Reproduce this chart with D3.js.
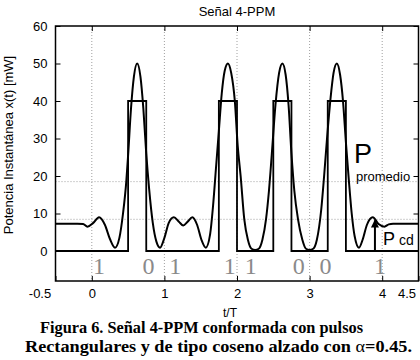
<!DOCTYPE html>
<html>
<head>
<meta charset="utf-8">
<title>Señal 4-PPM</title>
<script src="https://cdnjs.cloudflare.com/ajax/libs/d3/7.8.5/d3.min.js"></script>
<style>
    body { margin: 0; background: #fff; }
    svg { display: block; font-family: "Liberation Sans", Arial, sans-serif; }
    .grid { stroke: #888; stroke-width: 0.8; stroke-dasharray: 1,2; }
    .tick text { font-size: 13px; fill: #000; font-family: "Liberation Sans", Arial, sans-serif; }
    .tick line { stroke: #000; }
    .bit { font-family: "Liberation Serif", "Times New Roman", serif; font-size: 24px; fill: #8a8a8a; }
    .caption { font-family: "Liberation Serif", "Times New Roman", serif; font-size: 16px; font-weight: bold; }
</style>
</head>
<body>
<div id="chart"></div>
<script>
    // time axis (t/T) and ticks
    const xTicks = [-0.5, 0, 1, 2, 3, 4, 4.5];
    const yTicks = [0, 10, 20, 30, 40, 50, 60];

    // raised cosine pulse train, instantaneous power [mW]
    const cosT = [-0.5, -0.2, -0.12, -0.06, 0.02, 0.1, 0.18, 0.25, 0.32, 0.38, 0.43, 0.475, 0.5, 0.54, 0.58, 0.625,
        0.67, 0.71, 0.75, 0.79, 0.84, 0.89, 0.94, 1.0, 1.06, 1.13, 1.2, 1.26, 1.32, 1.385, 1.45, 1.51, 1.57,
        1.63, 1.67, 1.71, 1.75, 1.79, 1.83, 1.875, 1.92, 1.97, 2.01, 2.05, 2.1, 2.15, 2.2, 2.25, 2.3, 2.35, 2.4,
        2.44, 2.48, 2.53, 2.58, 2.625, 2.67, 2.71, 2.75, 2.79, 2.84, 2.9, 2.95, 3.0, 3.05, 3.1, 3.16, 3.2, 3.24,
        3.29, 3.33, 3.375, 3.42, 3.46, 3.5, 3.54, 3.58, 3.62, 3.68, 3.73, 3.79, 3.87, 3.95, 4.03, 4.09, 4.15, 4.5];
    const cosP = [7.3, 7.3, 7.2, 6.5, 7.5, 9.0, 7.0, 3.2, 0.9, 3.5, 10, 18.5, 25.5, 38, 46.5, 50,
        46.5, 38, 26, 16.5, 7.5, 2.5, 0.9, 3.5, 7.5, 9.0, 7.8, 6.8, 7.8, 9.0, 7.0, 3.0, 0.9,
        4.5, 12, 22, 32, 42, 48, 50, 47.5, 40, 28, 20, 8.5, 3.0, 0.6, 0.3, 0.6, 3.0, 8.5,
        16, 26, 39, 47.5, 50, 47, 39, 26, 16, 8.5, 3.0, 0.6, 0.3, 0.6, 3.0, 11, 20, 30,
        41, 47.5, 50, 47, 40, 29, 19, 10, 4.0, 0.9, 3.0, 7.0, 9.0, 7.2, 6.5, 7.1, 7.3, 7.3];

    // rectangular pulses
    const rectStart = [0.5, 1.75, 2.5, 3.25];
    const rectEnd = [0.75, 2.0, 2.75, 3.5];
    const rectAmp = 40;

    // power levels
    const pPromedio = 18.5;
    const pCd = 8.45;

    // transmitted bits under the slots
    const bitLabels = ["1", "0", "1", "1", "1", "0", "0", "1"];
    const bitPos = [0.10, 0.78, 1.15, 1.90, 2.19, 2.85, 3.22, 3.97];

    const W = 420, H = 360;
    const svg = d3.select('#chart').append('svg')
        .attr('width', W)
        .attr('height', H);

    const x = d3.scaleLinear().domain([-0.5, 4.5]).range([55.5, 418.5]);
    const y = d3.scaleLinear().domain([-8, 60]).range([281, 26]);

    // vertical grid
    svg.append('g').selectAll('line')
        .data([0, 1, 2, 3, 4])
        .enter().append('line')
        .attr('class', 'grid')
        .attr('x1', d => x(d)).attr('x2', d => x(d))
        .attr('y1', y(60)).attr('y2', y(-8));

    // horizontal level lines
    svg.append('g').selectAll('line')
        .data([pPromedio, pCd])
        .enter().append('line')
        .attr('class', 'grid')
        .attr('x1', x(-0.5)).attr('x2', x(4.5))
        .attr('y1', d => y(d)).attr('y2', d => y(d));

    // axes with inward ticks
    const yAxis = svg.append('g')
        .attr('transform', `translate(${x(-0.5)},0)`)
        .call(d3.axisLeft(y).tickValues(yTicks).tickSizeInner(-5).tickSizeOuter(0).tickPadding(8));
    yAxis.select('.domain').remove();

    svg.append('g')
        .attr('transform', `translate(${x(4.5)},0)`)
        .call(d3.axisRight(y).tickValues(yTicks).tickSizeInner(-5).tickSizeOuter(0).tickFormat(''))
        .select('.domain').remove();

    const xAxis = svg.append('g')
        .attr('transform', `translate(0,${y(-8)})`)
        .call(d3.axisBottom(x).tickValues(xTicks).tickSizeInner(-5).tickSizeOuter(0).tickPadding(8)
            .tickFormat(d => d));
    xAxis.select('.domain').remove();
    // end labels sit a little off their ticks in the original
    xAxis.selectAll('.tick text')
        .attr('dx', d => d === -0.5 ? -16 : (d === 4.5 ? -12 : 0));

    svg.append('g')
        .attr('transform', `translate(0,${y(60)})`)
        .call(d3.axisTop(x).tickValues([0, 1, 2, 3, 4]).tickSizeInner(-5).tickSizeOuter(0).tickFormat(''))
        .select('.domain').remove();

    // frame
    svg.append('rect')
        .attr('x', x(-0.5)).attr('y', y(60))
        .attr('width', x(4.5) - x(-0.5))
        .attr('height', y(-8) - y(60))
        .attr('fill', 'none')
        .attr('stroke', '#000')
        .attr('stroke-width', 1.5);

    // rectangular pulse signal
    const rectPts = [[-0.5, 0]];
    rectStart.forEach((s, i) => {
        rectPts.push([s, 0], [s, rectAmp], [rectEnd[i], rectAmp], [rectEnd[i], 0]);
    });
    rectPts.push([4.5, 0]);

    const line = d3.line().x(d => x(d[0])).y(d => y(d[1]));

    svg.append('path')
        .datum(rectPts)
        .attr('d', line)
        .attr('fill', 'none')
        .attr('stroke', '#000')
        .attr('stroke-width', 1.8);

    // raised cosine signal
    const cosPts = cosT.map((t, i) => [t, cosP[i]]);
    svg.append('path')
        .datum(cosPts)
        .attr('d', line.curve(d3.curveMonotoneX))
        .attr('fill', 'none')
        .attr('stroke', '#000')
        .attr('stroke-width', 2);

    // bits
    svg.append('g').selectAll('text')
        .data(bitLabels)
        .enter().append('text')
        .attr('class', 'bit')
        .attr('x', (d, i) => x(bitPos[i]))
        .attr('y', 274)
        .attr('text-anchor', 'middle')
        .text(d => d);

    // P cd arrow
    svg.append('defs').append('marker')
        .attr('id', 'arrow')
        .attr('viewBox', '0 0 10 10')
        .attr('refX', 9).attr('refY', 5)
        .attr('markerWidth', 4).attr('markerHeight', 5)
        .attr('orient', 'auto')
        .append('path').attr('d', 'M0,0L10,5L0,10Z').attr('fill', '#000');

    svg.append('line')
        .attr('x1', x(3.9)).attr('x2', x(3.9))
        .attr('y1', y(0)).attr('y2', y(pCd) + 1)
        .attr('stroke', '#000')
        .attr('stroke-width', 2)
        .attr('marker-end', 'url(#arrow)');

    // annotations
    svg.append('text')
        .attr('x', 354).attr('y', 163)
        .style('font-size', '27px')
        .text('P');
    svg.append('text')
        .attr('x', 356).attr('y', 181)
        .style('font-size', '13px')
        .text('promedio');

    const pcd = svg.append('text')
        .attr('x', 383).attr('y', 245)
        .style('font-size', '18px')
        .text('P');
    pcd.append('tspan')
        .attr('dx', 4)
        .style('font-size', '14px')
        .text('cd');

    // title and axis labels
    svg.append('text')
        .attr('x', (x(-0.5) + x(4.5)) / 2)
        .attr('y', 16)
        .attr('text-anchor', 'middle')
        .style('font-size', '13px')
        .text('Señal 4-PPM');

    svg.append('text')
        .attr('transform', 'rotate(-90)')
        .attr('x', -145)
        .attr('y', 13)
        .attr('text-anchor', 'middle')
        .style('font-size', '13px')
        .text('Potencia Instantánea x(t) [mW]');

    svg.append('text')
        .attr('x', 230)
        .attr('y', 317)
        .attr('text-anchor', 'middle')
        .style('font-size', '12px')
        .text('t/T');

    // caption
    svg.append('text')
        .attr('class', 'caption')
        .attr('x', 40).attr('y', 333)
        .attr('textLength', 323)
        .attr('lengthAdjust', 'spacingAndGlyphs')
        .text('Figura 6. Señal 4-PPM conformada con pulsos');

    const cap2 = svg.append('text')
        .attr('class', 'caption')
        .attr('x', 25).attr('y', 352)
        .attr('textLength', 387)
        .attr('lengthAdjust', 'spacingAndGlyphs');
    cap2.append('tspan').text('Rectangulares y de tipo coseno alzado con ');
    cap2.append('tspan').style('font-weight', 'normal').text('α');
    cap2.append('tspan').text('=0.45.');
</script>
</body>
</html>
